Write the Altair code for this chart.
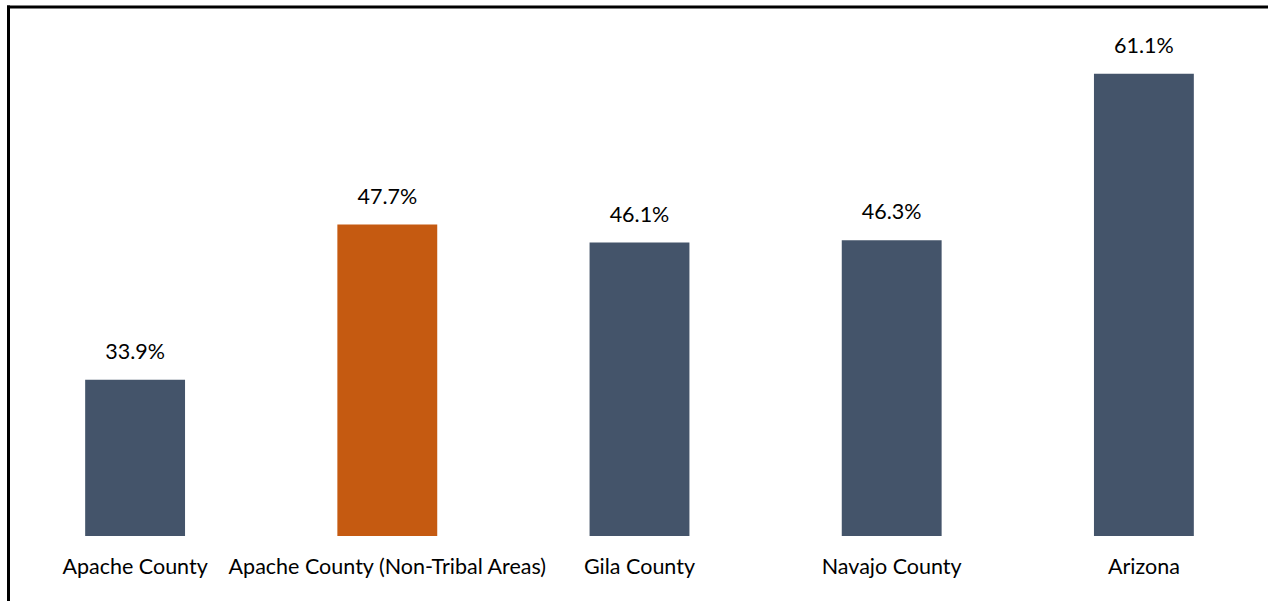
import altair as alt
import pandas as pd

categories = ["Apache County", "Apache County (Non-Tribal Areas)", "Gila County", "Navajo County", "Arizona"]
values = [33.9, 47.7, 46.1, 46.3, 61.1]
colors = ["#44546A", "#C55A11", "#44546A", "#44546A", "#44546A"]
labels = ["33.9%", "47.7%", "46.1%", "46.3%", "61.1%"]

df = pd.DataFrame({"cat": categories, "val": values, "color": colors, "label": labels})
one = pd.DataFrame({"k": [0]})

FONT = "Lato"
W, H = 1250, 506

x = alt.X("cat:N", sort=categories, title=None,
          scale=alt.Scale(range=[0, 1261], paddingInner=0.604, paddingOuter=0.302),
          axis=alt.Axis(labelAngle=0, ticks=False, domain=False, grid=False, labelFont=FONT,
                        labelFontSize=21.5, labelColor="#000000", labelPadding=20,
                        labelLimit=400))
y = alt.Y("val:Q", title=None, scale=alt.Scale(domain=[20, 65], zero=False, nice=False),
          axis=None)

bars = alt.Chart(df).mark_bar().encode(
    x=x, y=y, y2=alt.datum(20), color=alt.Color("color:N", scale=None)
)
text = alt.Chart(df).mark_text(font=FONT, fontSize=21.5, color="#000000", dy=-27,
                               baseline="middle").encode(x=x, y=y, text="label:N")

border_top = alt.Chart(one).mark_rect(color="#000000").encode(
    x=alt.value(-2), x2=alt.value(W + 20), y=alt.value(-24.5), y2=alt.value(-21.5))
border_left = alt.Chart(one).mark_rect(color="#000000").encode(
    x=alt.value(-2), x2=alt.value(1), y=alt.value(-24.5), y2=alt.value(H + 80))

chart = alt.layer(bars, text, border_top, border_left).properties(
    width=W, height=H,
    background="#FFFFFF",
    autosize=alt.AutoSizeParams(type="none"),
    padding={"left": 9, "top": 30, "right": 9, "bottom": 65},
).configure_view(stroke=None, strokeWidth=0)

chart.save("out.html", embed_options={"renderer": "svg", "actions": False})
